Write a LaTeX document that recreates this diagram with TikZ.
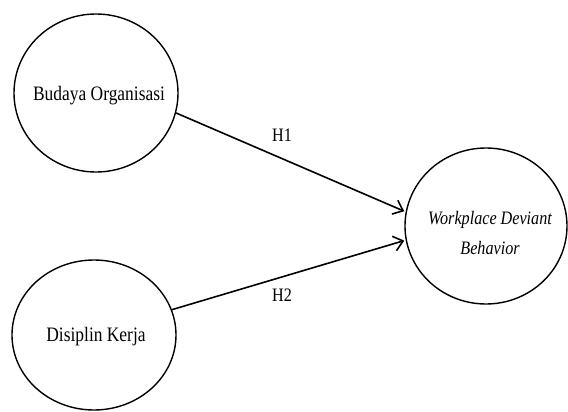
\documentclass[tikz,border=0pt]{standalone}
\usepackage{fontspec}
\setmainfont{Liberation Serif}
\newfontfamily\narrowserif[FakeStretch=0.85]{Liberation Serif}
\usetikzlibrary{shapes.geometric,arrows.meta}
\begin{document}
\begin{tikzpicture}[x=1pt,y=-1pt,
  var/.style={draw, line width=1.4pt, ellipse, inner sep=0pt},
  vtext/.style={font=\narrowserif\fontsize{20.5}{24}\selectfont, align=center},
  link/.style={line width=1.6pt, -{Straight Barb[length=9pt,width=15pt,line width=1.6pt]}},
  hlabel/.style={font=\narrowserif\fontsize{19}{22}\selectfont}]
\useasboundingbox (0,0) rectangle (568,412);
\node[var, minimum width=164pt, minimum height=158pt] (bo) at (96,93) {};
\node[vtext] (bot) at (99,96) {Budaya Organisasi};
\node[var, minimum width=164pt, minimum height=150pt] (dk) at (94,335) {};
\node[vtext] (dkt) at (96,337) {Disiplin Kerja};
\node[var, minimum width=162pt, minimum height=156pt] (wdb) at (486,226) {};
\node[vtext, font=\narrowserif\itshape\fontsize{19}{30}\selectfont] (wdbt) at (490,233) {Workplace Deviant\\Behavior};
\draw[link, shorten >=1.5pt] (bo.-14) -- (wdb.170);
\draw[link, shorten >=1.5pt] (dk.18) -- (wdb.190);
\node[hlabel] (h1) at (282,135) {H1};
\node[hlabel] (h2) at (282,295) {H2};
\end{tikzpicture}
\end{document}
